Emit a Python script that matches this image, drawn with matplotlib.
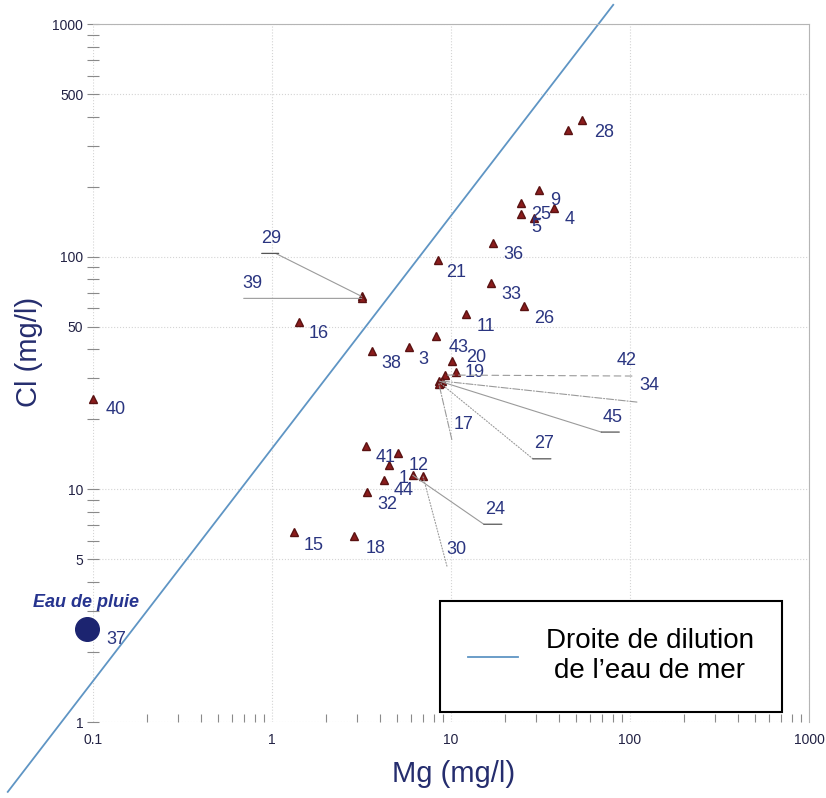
import matplotlib
matplotlib.use("Agg")
import matplotlib.pyplot as plt
from matplotlib.text import OffsetFrom
from matplotlib.ticker import FixedLocator, LogLocator, NullFormatter

plt.rcParams['font.family'] = ['Liberation Sans', 'DejaVu Sans']

# echantillons : Mg et Cl en mg/l
sample_id = ['28', '', '9', '25', '', '4', '5', '36', '21', '33', '26', '11',
             '43', '3', '38', '16', '29', '39', '40', '20', '19',
             '42', '34', '45', '27', '17',
             '41', '1', '12', '44', '32', '24', '30', '18', '15']
mg = [54.2, 45.2, 31.1, 24.7, 24.7, 37.8, 29.2, 17.2, 8.46, 16.7, 25.6, 12.1,
      8.24, 5.82, 3.61, 1.41, 3.17, 3.17, 0.10, 10.1, 10.7,
      9.25, 8.9, 8.6, 8.67, 8.55,
      3.34, 4.49, 5.05, 4.21, 3.38, 6.12, 6.97, 2.86, 1.32]
cl = [385, 352, 193, 153, 170, 162, 146, 114, 97, 76.7, 61.1, 56.5,
      45.5, 40.8, 39.3, 52.2, 67.5, 66.2, 24.5, 35.6, 31.9,
      31.0, 29.2, 29.2, 28.7, 28.5,
      15.3, 12.7, 14.4, 11.0, 9.71, 11.5, 11.4, 6.3, 6.55]

# eau de pluie
rain_id = '37'
rain_mg = 0.0925
rain_cl = 2.5

# droite de dilution de l'eau de mer (Cl/Mg)
sea_ratio = 15.0
sea_mg = [0.0334, 80.6]
sea_cl = [sea_ratio * m for m in sea_mg]

# position des etiquettes (decalage en pixels)
label_offset = {
    '28': (22, -12), '9': (16, -10), '25': (20, -1), '4': (15, -12),
    '5': (2, -9), '36': (20, -11), '21': (18, -13), '33': (20, -11),
    '26': (20, -12), '11': (20, -12), '43': (23, -11), '3': (14, -12),
    '38': (20, -12), '16': (20, -11), '20': (24, 4), '19': (18, 0),
    '40': (23, -11), '41': (20, -11), '1': (15, -13), '12': (21, -13),
    '44': (20, -11), '32': (21, -12), '18': (22, -12), '15': (20, -13),
}
# etiquettes avec trait de rappel: texte, fin du trait, soulignement, style
leaders = {
    '29': ((-91, 58), (-86, 43), (-14, 3), '-'),
    '39': ((-109, 15), (-118, 0), None, '-'),
    '42': ((182, 15), (187, -1), None, (0, (6, 4))),
    '34': ((207, -4), (195, -21), None, '-.'),
    '45': ((173, -36), (162, -51), (0, 18), '-'),
    '27': ((104, -61), (93, -76), (0, 18), ':'),
    '17': ((25, -41), (13, -56), None, '-.'),
    '24': ((82, -34), (71, -49), (0, 18), '-'),
    '30': ((33, -73), (24, -90), None, ':'),
}

navy = '#2a3580'
fig = plt.figure(figsize=(8.26, 7.98), dpi=100)
ax = fig.add_axes([0.1126, 0.0952, 0.8668, 0.8747])
ax.set_xscale('log')
ax.set_yscale('log')
ax.set_xlim(0.1, 1000)
ax.set_ylim(1, 1000)

ax.plot(sea_mg, sea_cl, color='#5f95c4', lw=1.3, clip_on=False,
        label='Droite de dilution\nde l\u2019eau de mer', zorder=2)
ax.plot(mg, cl, ls='none', marker='^', ms=5.5, color='#8b1c1c',
        mec='#5a1212', clip_on=False, zorder=3)
ax.plot([rain_mg], [rain_cl], ls='none', marker='o', ms=17, color='#1c2470',
        clip_on=False, zorder=3)

grey = '#9a9a9a'
for name, x, y in zip(sample_id, mg, cl):
    if name in leaders:
        txt, end, ul, ls = leaders[name]
        ax.annotate('', xy=(x, y), xytext=end, textcoords='offset pixels',
                    arrowprops=dict(arrowstyle='-', color=grey, lw=0.8, ls=ls,
                                    shrinkA=0, shrinkB=0))
        if ul is not None:
            ref = OffsetFrom(ax.transData, (x, y), unit='pixels')
            ax.annotate('', xy=(end[0] + ul[0], end[1]), xycoords=ref,
                        xytext=(end[0] + ul[1], end[1]), textcoords=ref,
                        arrowprops=dict(arrowstyle='-', color='#555555', lw=0.9,
                                        shrinkA=0, shrinkB=0))
        ax.annotate(name, (x, y), xytext=txt, textcoords='offset pixels',
                    ha='center', va='center', fontsize=13, color=navy)
    elif name:
        ax.annotate(name, (x, y), xytext=label_offset[name],
                    textcoords='offset pixels', ha='center', va='center',
                    fontsize=13, color=navy, annotation_clip=False)

ax.annotate(rain_id, (rain_mg, rain_cl), xytext=(29, -10),
            textcoords='offset pixels', ha='center', va='center',
            fontsize=13, color=navy, annotation_clip=False)
ax.annotate('Eau de pluie', (rain_mg, rain_cl), xytext=(-1, 27),
            textcoords='offset pixels', ha='center', va='center',
            fontsize=13, color='#26348f', fontweight='bold', fontstyle='italic',
            annotation_clip=False)

# axes
ax.xaxis.set_major_locator(FixedLocator([0.1, 1, 10, 100, 1000]))
ax.xaxis.set_major_formatter(plt.FixedFormatter(['0.1', '1', '10', '100', '1000']))
ax.xaxis.set_minor_locator(LogLocator(base=10, subs=[2, 3, 4, 5, 6, 7, 8, 9]))
ax.xaxis.set_minor_formatter(NullFormatter())
ax.yaxis.set_major_locator(FixedLocator([1, 5, 10, 50, 100, 500, 1000]))
ax.yaxis.set_major_formatter(plt.FixedFormatter(['1', '5', '10', '50', '100', '500', '1000']))
ax.yaxis.set_minor_locator(LogLocator(base=10, subs=[2, 3, 4, 6, 7, 8, 9]))
ax.yaxis.set_minor_formatter(NullFormatter())

ax.tick_params(axis='y', which='both', direction='inout', length=8, width=0.8,
               color='#8a8a8a', labelsize=10, labelcolor='#222244', pad=3)
ax.tick_params(axis='x', which='both', direction='in', length=6, width=0.8,
               color='#8a8a8a', labelsize=10, labelcolor='#222244', pad=8)
ax.tick_params(axis='x', which='major', length=0)

for side in ['left', 'bottom']:
    ax.spines[side].set_visible(False)
for side in ['top', 'right']:
    ax.spines[side].set_color('#b5b5b5')
    ax.spines[side].set_linewidth(0.8)

ax.grid(True, which='major', color='#d4d4d4', ls=':', lw=0.8)
ax.set_axisbelow(True)

ax.set_xlabel('Mg (mg/l)', fontsize=21, color='#252d6e')
ax.xaxis.set_label_coords(0.503, -0.055)
ax.set_ylabel('Cl (mg/l)', fontsize=21, color='#252d6e')
ax.yaxis.set_label_coords(-0.07, 0.53)

leg = ax.legend(loc='lower left', bbox_to_anchor=(0.485, 0.014), fontsize=20,
                frameon=True, fancybox=False, edgecolor='black', framealpha=1,
                handlelength=1.8, handletextpad=1.0, borderpad=1.0,
                borderaxespad=0)
leg.get_frame().set_linewidth(1.5)
for t in leg.get_texts():
    t.set_multialignment('center')

fig.savefig('out.png', dpi=100)
